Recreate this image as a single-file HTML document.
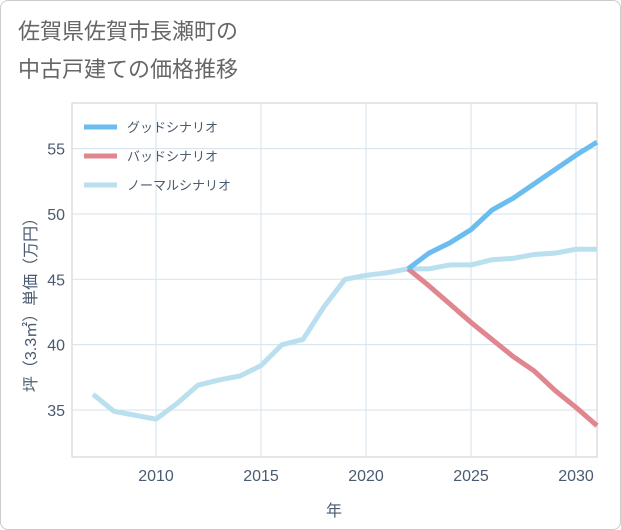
<!DOCTYPE html>
<html><head><meta charset="utf-8"><style>
body{margin:0;background:#fff;font-family:"Liberation Sans","Noto Sans CJK JP",sans-serif;}
#wrap{position:relative;width:619px;height:528px;border:1px solid #ccc;border-radius:8px;overflow:hidden;}
</style></head><body>
<div id="wrap">
<svg id="chart" width="619" height="528"></svg>
</div>
<script>
const years=[2007,2008,2009,2010,2011,2012,2013,2014,2015,2016,2017,2018,2019,2020,2021,2022,2023,2024,2025,2026,2027,2028,2029,2030,2031];
const normal=[36.2,34.9,34.6,34.3,35.5,36.9,37.3,37.6,38.4,40.0,40.4,42.9,45.0,45.3,45.5,45.8,45.8,46.1,46.1,46.5,46.6,46.9,47.0,47.3,47.3];
const goodYears=[2022,2023,2024,2025,2026,2027,2028,2029,2030,2031];
const good=[45.8,47.0,47.8,48.8,50.3,51.2,52.3,53.4,54.5,55.5];
const bad=[45.8,44.5,43.1,41.7,40.4,39.1,38.0,36.5,35.2,33.8];
const xTicks=[2010,2015,2020,2025,2030];
const yTicks=[35,40,45,50,55];
const NS="http://www.w3.org/2000/svg";
const svg=document.getElementById('chart');
const L=71,R=596,T=102,B=456;
const x=v=>155+(v-2010)*21;
const y=v=>409-(v-35)*13.07;
function el(t,a,p){const e=document.createElementNS(NS,t);for(const k in a)e.setAttribute(k,a[k]);(p||svg).appendChild(e);return e;}
function txt(s,a){const e=el('text',a);e.textContent=s;return e;}
const t1=txt('佐賀県佐賀市長瀬町の',{x:17,y:38,'font-size':22,fill:'#666'});

const t2=txt('中古戸建ての価格推移',{x:17,y:76,'font-size':22,fill:'#666'});

const frame=el('rect',{x:L,y:T,width:R-L,height:B-T,fill:'none',stroke:'#ccc'});

xTicks.forEach(v=>{const g=el('line',{x1:x(v),x2:x(v),y1:T,y2:B,stroke:'#d5e3ec'});

const l=txt(v,{x:x(v),y:480,'font-size':16,fill:'#4a5a70','text-anchor':'middle'});
});
yTicks.forEach(v=>{const g=el('line',{x1:L,x2:R,y1:y(v),y2:y(v),stroke:'#d5e3ec'});

const l=txt(v,{x:64,y:y(v)+6,'font-size':16,fill:'#4a5a70','text-anchor':'end'});
});
const xt=txt('年',{x:333,y:515,'font-size':16,fill:'#4a5a70','text-anchor':'middle'});

const yt=txt('坪（3.3㎡）単価（万円）',{x:0,y:0,'font-size':16,fill:'#4a5a70','text-anchor':'middle',transform:'translate(35,300) rotate(-90)'});

function line(xs,vs,c,name){const p=el('polyline',{points:xs.map((v,i)=>x(v)+','+y(vs[i])).join(' '),fill:'none',stroke:c,'stroke-width':5,'stroke-linejoin':'round'});
}
line(years,normal,'#badfee','normal-scenario-line');
line(goodYears,bad,'#e0868f','bad-scenario-line');
line(goodYears,good,'#6bbdf0','good-scenario-line');
[['グッドシナリオ','#6bbdf0'],['バッドシナリオ','#e0868f'],['ノーマルシナリオ','#badfee']].forEach((d,i)=>{
const yy=126+i*29;const g=el('g',{});

el('line',{x1:83,x2:116,y1:yy,y2:yy,stroke:d[1],'stroke-width':5},g);
const t=el('text',{x:126,y:yy+5,'font-size':13,fill:'#4a5a70'},g);t.textContent=d[0];});
</script>
</body></html>
